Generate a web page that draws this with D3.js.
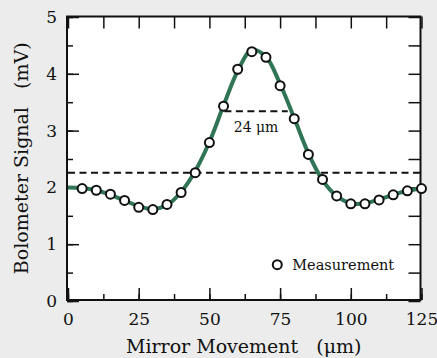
<!DOCTYPE html>
<html>
<head>
<meta charset="utf-8">
<script src="https://cdn.jsdelivr.net/npm/d3@7"></script>
<style>
  html, body { margin: 0; padding: 0; background: #ebeceb; }
  svg text { font-family: "DejaVu Serif", serif; fill: #111; }
</style>
</head>
<body>
<div id="chart"></div>
<script>
// measured points (x in um, signal in mV)
const measX = [5, 10, 15, 20, 25, 30, 35, 40, 45, 50, 55, 60, 65, 70, 75, 80, 85, 90, 95, 100, 105, 110, 115, 120, 125];
const measY = [1.98, 1.95, 1.88, 1.77, 1.65, 1.61, 1.70, 1.91, 2.26, 2.79, 3.43, 4.08, 4.39, 4.29, 3.79, 3.21, 2.58, 2.14, 1.85, 1.71, 1.71, 1.78, 1.87, 1.94, 1.98];

// fitted curve
const fitX = [0, 5, 10, 15, 20, 25, 30, 35, 40, 45, 50, 55, 60, 65, 70, 75, 80, 85, 90, 95, 100, 105, 110, 115, 120, 125];
const fitY = [2.00, 1.99, 1.95, 1.87, 1.77, 1.67, 1.62, 1.69, 1.92, 2.29, 2.80, 3.44, 4.05, 4.42, 4.30, 3.82, 3.22, 2.60, 2.13, 1.85, 1.72, 1.72, 1.79, 1.87, 1.94, 1.98];

const xTicks = [0, 25, 50, 75, 100, 125];
const yTicks = [0, 1, 2, 3, 4, 5];

const baseLevel = 2.26;        // long dashed line
const fwhmLevel = 3.34;        // half max line
const fwhmRange = [55.3, 77.7];
const fwhmLabel = "24 μm";
const legendLabel = "Measurement";

const W = 437, H = 358;
const pL = 67, pR = 420.5, pT = 16.5, pB = 300;

const svg = d3.select("#chart").append("svg")
  .attr("width", W)
  .attr("height", H);

const x = d3.scaleLinear().domain([0, 125]).range([pL + 1, pR + 1]);
const y = d3.scaleLinear().domain([0, 5]).range([pB + 1, pT + 0.5]);

// plot background
svg.append("rect")
  .attr("x", pL).attr("y", pT)
  .attr("width", pR - pL).attr("height", pB - pT)
  .attr("fill", "#fff");

const minorX = d3.range(0, 125.01, 12.5);
const minorY = d3.range(0, 5.01, 0.5);

// bottom ticks (inward, major + minor)
svg.append("g")
  .attr("transform", `translate(0,${pB})`)
  .call(d3.axisBottom(x).tickValues(minorX).tickSize(-6).tickFormat(""))
  .call(g => g.select(".domain").remove())
  .call(g => g.selectAll("line").attr("stroke", "#111").attr("stroke-width", 1.5));
svg.append("g")
  .attr("transform", `translate(0,${pB})`)
  .call(d3.axisBottom(x).tickValues(xTicks).tickSize(-12).tickPadding(13).tickFormat(d3.format("d")))
  .call(g => g.select(".domain").remove())
  .call(g => g.selectAll("line").attr("stroke", "#111").attr("stroke-width", 1.5))
  .call(g => g.selectAll("text").attr("font-size", 17).attr("font-family", "DejaVu Serif"));

// top ticks
svg.append("g")
  .attr("transform", `translate(0,${pT})`)
  .call(d3.axisTop(x).tickValues(minorX).tickSize(-12).tickFormat(""))
  .call(g => g.select(".domain").remove())
  .call(g => g.selectAll("line").attr("stroke", "#111").attr("stroke-width", 1.5));

// left ticks
svg.append("g")
  .attr("transform", `translate(${pL},0)`)
  .call(d3.axisLeft(y).tickValues(minorY).tickSize(-6).tickFormat(""))
  .call(g => g.select(".domain").remove())
  .call(g => g.selectAll("line").attr("stroke", "#111").attr("stroke-width", 1.5));
svg.append("g")
  .attr("transform", `translate(${pL},0)`)
  .call(d3.axisLeft(y).tickValues(yTicks).tickSize(-12).tickPadding(10).tickFormat(d3.format("d")))
  .call(g => g.select(".domain").remove())
  .call(g => g.selectAll("line").attr("stroke", "#111").attr("stroke-width", 1.5))
  .call(g => g.selectAll("text").attr("font-size", 17).attr("font-family", "DejaVu Serif"));

// right ticks
svg.append("g")
  .attr("transform", `translate(${pR},0)`)
  .call(d3.axisRight(y).tickValues(minorY).tickSize(-12).tickFormat(""))
  .call(g => g.select(".domain").remove())
  .call(g => g.selectAll("line").attr("stroke", "#111").attr("stroke-width", 1.5));

// frame
svg.append("rect")
  .attr("x", pL).attr("y", pT)
  .attr("width", pR - pL).attr("height", pB - pT)
  .attr("fill", "none")
  .attr("stroke", "#111")
  .attr("stroke-width", 2);

// dashed reference lines
svg.append("line")
  .attr("x1", x(0)).attr("x2", x(125))
  .attr("y1", y(baseLevel)).attr("y2", y(baseLevel))
  .attr("stroke", "#111").attr("stroke-width", 2)
  .attr("stroke-dasharray", "7,4.5");

svg.append("line")
  .attr("x1", x(fwhmRange[0])).attr("x2", x(fwhmRange[1]))
  .attr("y1", y(fwhmLevel)).attr("y2", y(fwhmLevel))
  .attr("stroke", "#111").attr("stroke-width", 2)
  .attr("stroke-dasharray", "7,4.5");

svg.append("text")
  .attr("x", x((fwhmRange[0] + fwhmRange[1]) / 2))
  .attr("y", y(fwhmLevel) + 21)
  .attr("text-anchor", "middle")
  .attr("font-size", 14)
  .text(fwhmLabel);

// fit curve
const line = d3.line()
  .x((d, i) => x(fitX[i]))
  .y(d => y(d))
  .curve(d3.curveCatmullRom.alpha(0.5));

svg.append("path")
  .datum(fitY)
  .attr("d", line)
  .attr("fill", "none")
  .attr("stroke", "#2f7556")
  .attr("stroke-width", 4);

// measurement points
svg.selectAll("circle.meas")
  .data(measY)
  .join("circle")
  .attr("class", "meas")
  .attr("cx", (d, i) => x(measX[i]))
  .attr("cy", d => y(d))
  .attr("r", 4.5)
  .attr("fill", "#fff")
  .attr("stroke", "#111")
  .attr("stroke-width", 2);

// legend
const lg = svg.append("g").attr("transform", `translate(${x(74)},${y(0.64)})`);
lg.append("circle")
  .attr("r", 4.5)
  .attr("fill", "#fff")
  .attr("stroke", "#111")
  .attr("stroke-width", 2);
lg.append("text")
  .attr("x", 15)
  .attr("y", 5)
  .attr("font-size", 14.5)
  .text(legendLabel);

// axis titles
svg.append("text")
  .attr("x", (pL + pR) / 2)
  .attr("y", 352.5)
  .attr("text-anchor", "middle")
  .attr("font-size", 19)
  .style("white-space", "pre")
  .text("Mirror Movement   (μm)");

svg.append("text")
  .attr("transform", `translate(28,${(pT + pB) / 2}) rotate(-90)`)
  .attr("text-anchor", "middle")
  .attr("font-size", 19)
  .style("white-space", "pre")
  .text("Bolometer Signal   (mV)");
</script>
</body>
</html>
